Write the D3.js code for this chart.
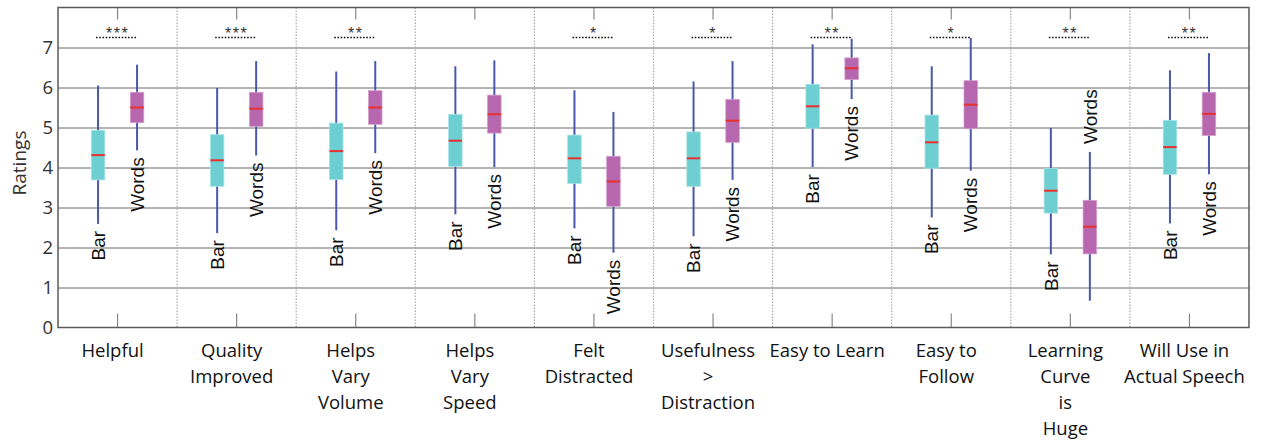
<!DOCTYPE html>
<html>
<head>
<meta charset="utf-8">
<script src="https://cdn.jsdelivr.net/npm/d3@7/dist/d3.min.js"></script>
<style>
  body { margin: 0; background: #fff; }
  svg { display: block; }
</style>
</head>
<body>
<svg id="chart" width="1270" height="441"></svg>
<script>
// ---- data ----
const categories = ["Helpful", "Quality Improved", "Helps Vary Volume", "Helps Vary Speed", "Felt Distracted",
  "Usefulness > Distraction", "Easy to Learn", "Easy to Follow", "Learning Curve is Huge", "Will Use in Actual Speech"];
const categoryLines = [["Helpful"], ["Quality", "Improved"], ["Helps", "Vary", "Volume"], ["Helps", "Vary", "Speed"],
  ["Felt", "Distracted"], ["Usefulness", ">", "Distraction"], ["Easy to Learn"], ["Easy to", "Follow"],
  ["Learning", "Curve", "is", "Huge"], ["Will Use in", "Actual Speech"]];
const conditions = ["Bar", "Words"];

const barLow  = [2.59, 2.36, 2.43, 2.83, 2.48, 2.28, 4.01, 2.75, 1.83, 2.60];
const barQ1   = [3.69, 3.53, 3.70, 4.03, 3.60, 3.53, 4.98, 3.98, 2.86, 3.83];
const barMed  = [4.31, 4.18, 4.41, 4.67, 4.23, 4.23, 5.53, 4.63, 3.42, 4.51];
const barQ3   = [4.93, 4.82, 5.11, 5.33, 4.81, 4.89, 6.08, 5.31, 3.98, 5.18];
const barHigh = [6.05, 5.99, 6.40, 6.53, 5.93, 6.15, 7.08, 6.53, 4.99, 6.43];

const wordsLow  = [4.43, 4.30, 4.36, 4.01, 1.87, 3.69, 5.71, 3.92, 0.67, 3.83];
const wordsQ1   = [5.12, 5.03, 5.08, 4.86, 3.03, 4.63, 6.20, 4.97, 1.84, 4.80];
const wordsMed  = [5.50, 5.47, 5.50, 5.33, 3.65, 5.17, 6.48, 5.57, 2.52, 5.34];
const wordsQ3   = [5.88, 5.88, 5.92, 5.81, 4.28, 5.70, 6.74, 6.17, 3.18, 5.88];
const wordsHigh = [6.57, 6.66, 6.66, 6.68, 5.39, 6.66, 7.22, 7.24, 4.39, 6.86];

const significance = ["***", "***", "**", "", "*", "*", "**", "*", "**", "**"];
const sigLevel = 7.25;
const yTicks = [0, 1, 2, 3, 4, 5, 6, 7];
const yLabel = "Ratings";

// ---- layout ----
const svg = d3.select("#chart");
const pLeft = 58, pRight = 1249, pTop = 7.5, pBottom = 327.5;

const x = d3.scaleBand().domain(categories).range([pLeft, pRight]).padding(0);
const bw = x.bandwidth();
const xi = d3.scalePoint().domain(conditions).range([bw / 2 - 19.5, bw / 2 + 19.5]);
const y = d3.scaleLinear().domain([0, 8]).range([pBottom, pTop]);

const colors = { Bar: "#6dcfd2", Words: "#b667ae" };
const edge = { Bar: "#a6e4e6", Words: "#d49ccd" };
const boxW = 13.5;

const boxes = [];
categories.forEach((c, i) => {
  boxes.push({ cat: c, cond: "Bar", low: barLow[i], q1: barQ1[i], med: barMed[i], q3: barQ3[i], high: barHigh[i] });
  boxes.push({ cat: c, cond: "Words", low: wordsLow[i], q1: wordsQ1[i], med: wordsMed[i], q3: wordsQ3[i], high: wordsHigh[i] });
});

// gridlines + y tick labels
const yAxis = svg.append("g")
  .attr("transform", `translate(${pLeft},0)`)
  .call(d3.axisLeft(y).tickValues(yTicks).tickFormat(d => d).tickSize(-(pRight - pLeft)).tickPadding(5));
yAxis.select(".domain").remove();
yAxis.selectAll(".tick line").attr("stroke", "#6a6a6a").attr("stroke-width", 1)
  .filter(d => d === 0).remove();
yAxis.selectAll(".tick text").attr("font-family", "'Open Sans', sans-serif").attr("font-size", 18.5).attr("fill", "#333");

// group separators (dotted)
svg.append("g").selectAll("line")
  .data(categories.slice(1))
  .join("line")
  .attr("x1", d => x(d)).attr("x2", d => x(d))
  .attr("y1", pTop).attr("y2", pBottom)
  .attr("stroke", "#aaa").attr("stroke-width", 1.2).attr("stroke-dasharray", "1.5,1.5");

// top & bottom ticks
const xTop = svg.append("g").attr("transform", `translate(0,${pTop})`)
  .call(d3.axisTop(x).tickFormat("").tickSize(-12).tickSizeOuter(0));
const xBot = svg.append("g").attr("transform", `translate(0,${pBottom})`)
  .call(d3.axisBottom(x).tickFormat("").tickSize(-14).tickSizeOuter(0));
[xTop, xBot].forEach(g => {
  g.select(".domain").remove();
  g.selectAll(".tick line").attr("stroke", "#888").attr("stroke-width", 1.2);
});

// frame
svg.append("rect")
  .attr("x", pLeft).attr("y", pTop).attr("width", pRight - pLeft).attr("height", pBottom - pTop)
  .attr("fill", "none").attr("stroke", "#5a5a5a").attr("stroke-width", 1.5);

// boxes
const bx = d => x(d.cat) + xi(d.cond);
const g = svg.append("g").selectAll("g").data(boxes).join("g");
g.append("line")
  .attr("x1", bx).attr("x2", bx)
  .attr("y1", d => y(d.low)).attr("y2", d => y(d.high))
  .attr("stroke", "#4a58ab").attr("stroke-width", 2);
g.append("rect")
  .attr("x", d => bx(d) - boxW / 2).attr("width", boxW)
  .attr("y", d => y(d.q3)).attr("height", d => y(d.q1) - y(d.q3))
  .attr("fill", d => colors[d.cond]).attr("stroke", d => edge[d.cond]).attr("stroke-width", 0.8);
g.append("line")
  .attr("x1", d => bx(d) - boxW / 2).attr("x2", d => bx(d) + boxW / 2)
  .attr("y1", d => y(d.med)).attr("y2", d => y(d.med))
  .attr("stroke", "#e8302f").attr("stroke-width", 2);

// condition labels (rotated)
g.append("text")
  .text(d => d.cond)
  .attr("font-family", "'Liberation Sans', Arial, sans-serif")
  .attr("font-size", 19)
  .attr("fill", "#111")
  .attr("dy", "0.35em")
  .each(function (d) {
    const len = this.getComputedTextLength();
    const cx = bx(d);
    let yy, anchor;
    if (y(d.low) + 7 + len > pBottom - 2) {
      yy = y(d.high) - 8; anchor = "start";
    } else {
      yy = y(d.low) + 7; anchor = "end";
    }
    d3.select(this).attr("text-anchor", anchor)
      .attr("transform", `translate(${cx},${yy}) rotate(-90)`);
  });

// significance markers
const sig = svg.append("g").selectAll("g")
  .data(categories.map((c, i) => ({ cat: c, s: significance[i] })).filter(d => d.s))
  .join("g");
sig.append("line")
  .attr("x1", d => x(d.cat) + xi("Bar") - 2).attr("x2", d => x(d.cat) + xi("Words"))
  .attr("y1", y(sigLevel)).attr("y2", y(sigLevel))
  .attr("stroke", "#111").attr("stroke-width", 1.6).attr("stroke-dasharray", "1.6,1.6");
sig.append("text")
  .attr("x", d => x(d.cat) + bw / 2)
  .attr("y", y(sigLevel) + 1)
  .attr("text-anchor", "middle")
  .attr("font-family", "'Liberation Sans', Arial, sans-serif")
  .attr("font-size", 16)
  .attr("letter-spacing", 1.5)
  .attr("fill", "#333")
  .text(d => d.s);

// category labels
const cl = svg.append("g").selectAll("text")
  .data(categories.map((c, i) => ({ cat: c, lines: categoryLines[i] })))
  .join("text")
  .attr("text-anchor", "middle")
  .attr("font-family", "'Open Sans', sans-serif")
  .attr("font-size", 18.5)
  .attr("fill", "#111")
  .attr("transform", d => `translate(${x(d.cat) + bw / 2 - 5},357)`);
cl.selectAll("tspan")
  .data(d => d.lines)
  .join("tspan")
  .attr("x", 0)
  .attr("y", (d, i) => i * 26)
  .text(d => d);

// y label
svg.append("text")
  .text(yLabel)
  .attr("transform", `translate(26,163) rotate(-90)`)
  .attr("text-anchor", "middle")
  .attr("font-family", "'Open Sans', sans-serif")
  .attr("font-size", 19)
  .attr("fill", "#333");
</script>
</body>
</html>
